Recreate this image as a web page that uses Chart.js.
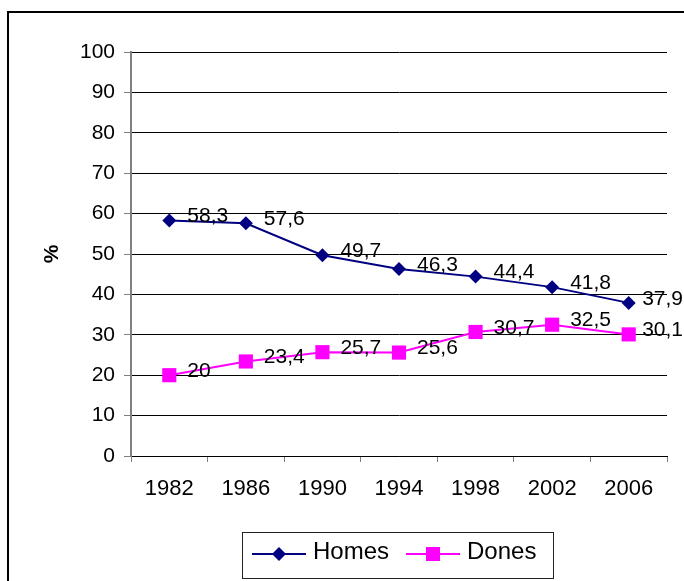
<!DOCTYPE html>
<html>
<head>
<meta charset="utf-8">
<script src="https://cdn.jsdelivr.net/npm/chart.js@4/dist/chart.umd.min.js"></script>
<style>
  html, body { margin: 0; padding: 0; background: #fff; }
  #wrap { width: 684px; height: 581px; position: relative; }
</style>
</head>
<body>
<div id="wrap"><canvas id="c" width="684" height="581"></canvas></div>
<script>
// ---- data ----
const categories = ['1982', '1986', '1990', '1994', '1998', '2002', '2006'];
const homes = [58.3, 57.6, 49.7, 46.3, 44.4, 41.8, 37.9];
const dones = [20, 23.4, 25.7, 25.6, 30.7, 32.5, 30.1];
const seriesNames = ['Homes', 'Dones'];
const yTicks = [0, 10, 20, 30, 40, 50, 60, 70, 80, 90, 100];
const yTitle = '%';

const FONT = '"Liberation Sans", Arial, sans-serif';
const NAVY = '#000080';
const MAGENTA = '#FF00FF';

const framePlugin = {
  id: 'frame',
  beforeDraw(chart) {
    const ctx = chart.ctx;
    ctx.save();
    ctx.fillStyle = '#fff';
    ctx.fillRect(0, 0, chart.width, chart.height);
    ctx.strokeStyle = '#000';
    ctx.lineWidth = 2;
    ctx.beginPath();
    ctx.moveTo(8, chart.height);
    ctx.lineTo(8, 12);
    ctx.lineTo(chart.width, 12);
    ctx.stroke();
    ctx.restore();
  }
};

const labelPlugin = {
  id: 'valueLabels',
  afterDatasetsDraw(chart) {
    const ctx = chart.ctx;
    ctx.save();
    ctx.font = '21px ' + FONT;
    ctx.fillStyle = '#000';
    ctx.textAlign = 'left';
    ctx.textBaseline = 'middle';
    chart.data.datasets.forEach((ds, di) => {
      const meta = chart.getDatasetMeta(di);
      meta.data.forEach((pt, i) => {
        const txt = String(ds.data[i]).replace('.', ',');
        const w = ctx.measureText(txt).width;
        const x = Math.min(pt.x + 18, chart.width - w - 1);
        ctx.fillText(txt, x, pt.y - 4);
      });
    });
    ctx.restore();
  }
};

const legendPlugin = {
  id: 'boxLegend',
  afterDraw(chart) {
    const ctx = chart.ctx;
    ctx.save();
    const boxL = 242, boxT = 532, boxR = 553, boxB = 578;
    ctx.strokeStyle = '#222';
    ctx.lineWidth = 1;
    ctx.strokeRect(boxL + 0.5, boxT + 0.5, boxR - boxL, boxB - boxT);
    const cy = 554;
    const starts = [252, 406];
    ctx.font = '24px ' + FONT;
    ctx.textBaseline = 'middle';
    ctx.textAlign = 'left';
    chart.data.datasets.forEach((ds, di) => {
      const x0 = starts[di];
      ctx.strokeStyle = ds.borderColor;
      ctx.lineWidth = 2;
      ctx.beginPath();
      ctx.moveTo(x0, cy);
      ctx.lineTo(x0 + 54, cy);
      ctx.stroke();
      ctx.fillStyle = ds.pointBackgroundColor;
      const mx = x0 + 27;
      ctx.beginPath();
      if (ds.pointStyle === 'rectRot') {
        const r = 7;
        ctx.moveTo(mx - r, cy); ctx.lineTo(mx, cy - r); ctx.lineTo(mx + r, cy); ctx.lineTo(mx, cy + r);
        ctx.closePath();
      } else {
        ctx.rect(mx - 7, cy - 7, 14, 14);
      }
      ctx.fill();
      ctx.fillStyle = '#000';
      ctx.fillText(ds.label, x0 + 61, cy - 2);
    });
    ctx.restore();
  }
};

new Chart(document.getElementById('c'), {
  type: 'line',
  data: {
    labels: categories,
    datasets: [
      {
        label: seriesNames[0], data: homes,
        borderColor: NAVY, backgroundColor: NAVY,
        pointBackgroundColor: NAVY, pointBorderColor: NAVY,
        pointStyle: 'rectRot', pointRadius: 7, pointBorderWidth: 0,
        borderWidth: 2, tension: 0
      },
      {
        label: seriesNames[1], data: dones,
        borderColor: MAGENTA, backgroundColor: MAGENTA,
        pointBackgroundColor: MAGENTA, pointBorderColor: MAGENTA,
        pointStyle: 'rect', pointRadius: 10, pointBorderWidth: 0,
        borderWidth: 2, tension: 0
      }
    ]
  },
  options: {
    responsive: false,
    animation: false,
    devicePixelRatio: 1,
    layout: { padding: { top: 52, right: 17, bottom: 0, left: 0 } },
    plugins: { legend: { display: false }, tooltip: { enabled: false } },
    scales: {
      x: {
        type: 'category',
        offset: true,
        grid: { offset: true, drawOnChartArea: false, drawTicks: true, tickLength: 6, tickColor: '#808080', lineWidth: 1 },
        border: { display: true, color: '#000', width: 1 },
        ticks: { color: '#000', font: { family: FONT, size: 22 }, padding: 14, maxRotation: 0, autoSkip: false },
        afterFit(scale) { scale.height = 125; }
      },
      y: {
        min: 0, max: 100,
        afterBuildTicks(scale) { scale.ticks = yTicks.map(v => ({ value: v })); },
        grid: { color: '#000', lineWidth: 1, drawTicks: true, tickLength: 7, tickColor: '#808080' },
        border: { display: true, color: '#808080', width: 2 },
        ticks: { color: '#000', font: { family: FONT, size: 21 }, padding: 9 },
        title: { display: true, text: yTitle, color: '#000', font: { family: FONT, size: 21, weight: 'bold' }, padding: { top: 40, bottom: 0 } },
        afterFit(scale) { scale.width = 131; }
      }
    }
  },
  plugins: [framePlugin, labelPlugin, legendPlugin]
});
</script>
</body>
</html>
